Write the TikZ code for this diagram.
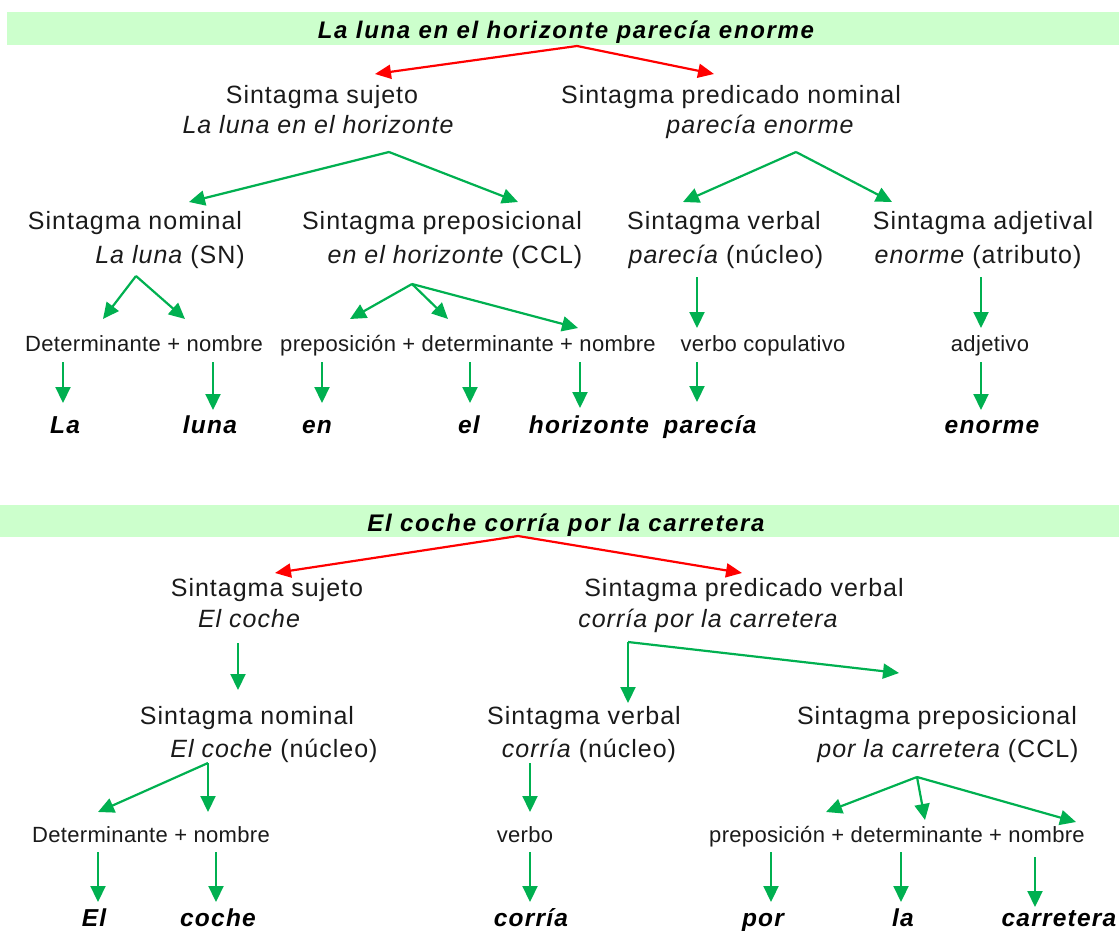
\documentclass[tikz,border=0pt]{standalone}
\usepackage{fontspec}
\setmainfont{Liberation Sans}
\newfontfamily\bigf{Liberation Sans}[LetterSpace=4]
\newfontfamily\smallf{Liberation Sans}[LetterSpace=1.5]
\newfontfamily\wordf{Liberation Sans}[LetterSpace=5]
\newfontfamily\titlef{Liberation Sans}[LetterSpace=7]
\usetikzlibrary{arrows.meta}
\definecolor{bandgreen}{HTML}{CCFFCC}
\definecolor{arrgreen}{HTML}{00B050}
\definecolor{arrred}{HTML}{FF0000}
\definecolor{ink}{HTML}{1A1A1A}
\tikzset{
 lbl/.style={anchor=base, inner sep=0pt, text=ink, font=\bigf\fontsize{25}{30}\selectfont},
 ilbl/.style={anchor=base, inner sep=0pt, text=ink, font=\bigf\itshape\fontsize{25}{30}\selectfont},
 slbl/.style={anchor=base, inner sep=0pt, text=ink, font=\smallf\fontsize{22}{26}\selectfont},
 wlbl/.style={anchor=base, inner sep=0pt, text=black, font=\wordf\bfseries\itshape\fontsize{24.5}{28}\selectfont},
 ttl/.style={anchor=base, inner sep=0pt, text=black, font=\titlef\bfseries\itshape\fontsize{24}{28}\selectfont},
 band/.style={fill=bandgreen, draw=none},
 garr/.style={draw=arrgreen, line width=2.2pt, -{Triangle[length=16pt,width=15pt]}},
 rarr/.style={draw=arrred, line width=2.2pt, -{Triangle[length=16pt,width=14pt]}},
}
\begin{document}
\begin{tikzpicture}[x=1pt,y=-1pt]
\useasboundingbox (0,0) rectangle (1119,931);
% ================= Section 1 =================
\fill[band] (7,12) rectangle (1119,45);
\node[ttl] (t1) at (566,39) {La luna en el horizonte parecía enorme};
\node[lbl]  (ss1)  at (322,104) {Sintagma sujeto};
\node[ilbl] (ss1b) at (318,134) {La luna en el horizonte};
\node[lbl]  (sp1)  at (731,104) {Sintagma predicado nominal};
\node[ilbl] (sp1b) at (760,134) {parecía enorme};
\node[lbl] (sn1)   at (135,229) {Sintagma nominal};
\node[lbl] (sn1b)  at (170,263) {{\itshape La luna} (SN)};
\node[lbl] (spp1)  at (442,229) {Sintagma preposicional};
\node[lbl] (spp1b) at (455,263) {{\itshape en el horizonte} (CCL)};
\node[lbl] (sv1)   at (724,229) {Sintagma verbal};
\node[lbl] (sv1b)  at (726,263) {{\itshape parecía} (núcleo)};
\node[lbl] (sa1)   at (983,229) {Sintagma adjetival};
\node[lbl] (sa1b)  at (978,263) {{\itshape enorme} (atributo)};
\node[slbl] (d1)   at (144,351) {Determinante + nombre};
\node[slbl] (p1)   at (468,351) {preposición + determinante + nombre};
\node[slbl] (vc1)  at (763,351) {verbo copulativo};
\node[slbl] (adj1) at (990,351) {adjetivo};
\node[wlbl] (wLa)   at (65,433)  {La};
\node[wlbl] (wluna) at (210,433) {luna};
\node[wlbl] (wen)   at (317,433) {en};
\node[wlbl] (wel)   at (469,433) {el};
\node[wlbl] (whor)  at (589,433) {horizonte};
\node[wlbl] (wpar)  at (710,433) {parecía};
\node[wlbl] (wenor) at (992,433) {enorme};
% connector points
\coordinate (r1) at (577,46);
\coordinate (r1L) at (375,74);
\coordinate (r1R) at (714,74);
\coordinate (g1) at (389,152);
\coordinate (g1L) at (189,202);
\coordinate (g1R) at (518,202);
\coordinate (g2) at (796,152);
\coordinate (g2L) at (683,202);
\coordinate (g2R) at (892,202);
\coordinate (g3) at (136,276);
\coordinate (g3L) at (103,319);
\coordinate (g3R) at (185,319);
\coordinate (g4) at (412,284);
\coordinate (g4L) at (350,319);
\coordinate (g4M) at (448,319);
\coordinate (g4R) at (578,328);
\coordinate (g5) at (697,277);
\coordinate (g5b) at (697,328);
\coordinate (g6) at (981,277);
\coordinate (g6b) at (981,328);
\coordinate (k1) at (63,362);  \coordinate (k1b) at (63,403);
\coordinate (k2) at (213,362); \coordinate (k2b) at (213,410);
\coordinate (k3) at (322,362); \coordinate (k3b) at (322,403);
\coordinate (k4) at (470,362); \coordinate (k4b) at (470,403);
\coordinate (k5) at (580,362); \coordinate (k5b) at (580,408);
\coordinate (k6) at (697,362); \coordinate (k6b) at (697,402);
\coordinate (k7) at (981,362); \coordinate (k7b) at (981,410);
\draw[rarr] (r1) -- (r1L);
\draw[rarr] (r1) -- (r1R);
\draw[garr] (g1) -- (g1L);
\draw[garr] (g1) -- (g1R);
\draw[garr] (g2) -- (g2L);
\draw[garr] (g2) -- (g2R);
\draw[garr] (g3) -- (g3L);
\draw[garr] (g3) -- (g3R);
\draw[garr] (g4) -- (g4L);
\draw[garr] (g4) -- (g4M);
\draw[garr] (g4) -- (g4R);
\draw[garr] (g5) -- (g5b);
\draw[garr] (g6) -- (g6b);
\foreach \i in {1,...,7} { \draw[garr] (k\i) -- (k\i b); }
% ================= Section 2 =================
\fill[band] (0,505) rectangle (1119,537);
\node[ttl] (t2) at (566,531) {El coche corría por la carretera};
\node[lbl]  (ss2)  at (267,596) {Sintagma sujeto};
\node[ilbl] (ss2b) at (249,627) {El coche};
\node[lbl]  (sp2)  at (744,596) {Sintagma predicado verbal};
\node[ilbl] (sp2b) at (708,627) {corría por la carretera};
\node[lbl] (sn2)   at (247,724) {Sintagma nominal};
\node[lbl] (sn2b)  at (274,757) {{\itshape El coche} (núcleo)};
\node[lbl] (sv2)   at (584,724) {Sintagma verbal};
\node[lbl] (sv2b)  at (589,757) {{\itshape corría} (núcleo)};
\node[lbl] (spp2)  at (937,724) {Sintagma preposicional};
\node[lbl] (spp2b) at (948,757) {{\itshape por la carretera} (CCL)};
\node[slbl] (d2)  at (151,842) {Determinante + nombre};
\node[slbl] (vb2) at (525,842) {verbo};
\node[slbl] (p2)  at (897,842) {preposición + determinante + nombre};
\node[wlbl] (wEl)    at (94,926)   {El};
\node[wlbl] (wcoche) at (218,926)  {coche};
\node[wlbl] (wcorr)  at (531,926)  {corría};
\node[wlbl] (wpor)   at (763,926)  {por};
\node[wlbl] (wla)    at (903,926)  {la};
\node[wlbl] (wcarr)  at (1059,926) {carretera};
\coordinate (r2) at (518,536);
\coordinate (r2L) at (275,573);
\coordinate (r2R) at (742,573);
\coordinate (h1) at (238,643);
\coordinate (h1b) at (238,690);
\coordinate (h2) at (628,642);
\coordinate (h2L) at (628,703);
\coordinate (h2R) at (899,673);
\coordinate (h3) at (208,763);
\coordinate (h3L) at (98,812);
\coordinate (h3R) at (208,812);
\coordinate (h4) at (530,763);
\coordinate (h4b) at (530,812);
\coordinate (h5) at (917,777);
\coordinate (h5L) at (826,812);
\coordinate (h5M) at (925,820);
\coordinate (h5R) at (1076,822);
\coordinate (m1) at (98,852);   \coordinate (m1b) at (98,902);
\coordinate (m2) at (216,852);  \coordinate (m2b) at (216,902);
\coordinate (m3) at (530,852);  \coordinate (m3b) at (530,902);
\coordinate (m4) at (771,852);  \coordinate (m4b) at (771,902);
\coordinate (m5) at (901,852);  \coordinate (m5b) at (901,902);
\coordinate (m6) at (1035,857); \coordinate (m6b) at (1035,907);
\draw[rarr] (r2) -- (r2L);
\draw[rarr] (r2) -- (r2R);
\draw[garr] (h1) -- (h1b);
\draw[garr] (h2) -- (h2L);
\draw[garr] (h2) -- (h2R);
\draw[garr] (h3) -- (h3L);
\draw[garr] (h3) -- (h3R);
\draw[garr] (h4) -- (h4b);
\draw[garr] (h5) -- (h5L);
\draw[garr] (h5) -- (h5M);
\draw[garr] (h5) -- (h5R);
\foreach \i in {1,...,6} { \draw[garr] (m\i) -- (m\i b); }
\end{tikzpicture}
\end{document}
